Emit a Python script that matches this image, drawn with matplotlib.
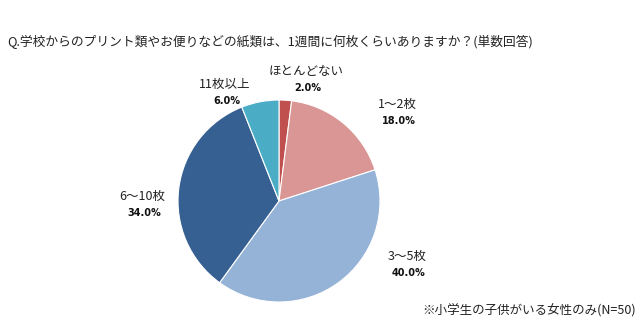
import matplotlib.pyplot as plt

plt.rcParams['font.family'] = ['Noto Sans CJK JP', 'DejaVu Sans']

# 1週間あたりの紙類の枚数（単数回答, N=50）
categories = ['ほとんどない', '1～2枚', '3～5枚', '6～10枚', '11枚以上']
shares = [2.0, 18.0, 40.0, 34.0, 6.0]
colors = ['#C0504D', '#D99694', '#95B3D7', '#376092', '#4BACC6']

title = 'Q.学校からのプリント類やお便りなどの紙類は、1週間に何枚くらいありますか？(単数回答)'
note = '※小学生の子供がいる女性のみ(N=50)'

W, H = 640, 323
fig = plt.figure(figsize=(W / 100, H / 100), dpi=100)
ax = fig.add_axes([0, 0, 1, 1])

ax.pie(shares, colors=colors, startangle=90, counterclock=False,
       center=(279, H - 201), radius=101,
       wedgeprops=dict(edgecolor='white', linewidth=0.8))
ax.set_xlim(0, W)
ax.set_ylim(0, H)
ax.set_aspect('equal')
ax.axis('off')

# ラベル位置（ピクセル）
label_pos = [(306, 71), (397, 104), (407, 256), (142, 196), (225, 84)]
for name, val, (x, y) in zip(categories, shares, label_pos):
    ax.text(x, H - y, name, ha='center', va='center', fontsize=9, color='#222222')
    ax.text(x + 2, H - y - 17, f'{val:.1f}%', ha='center', va='center',
            fontsize=7, fontweight='bold', color='#111111', family='DejaVu Sans')

ax.text(7, H - 42, title, ha='left', va='center', fontsize=9.2, color='#222222')
ax.text(636, H - 311, note, ha='right', va='center', fontsize=9, color='#222222')

fig.savefig('out.png', dpi=100)
